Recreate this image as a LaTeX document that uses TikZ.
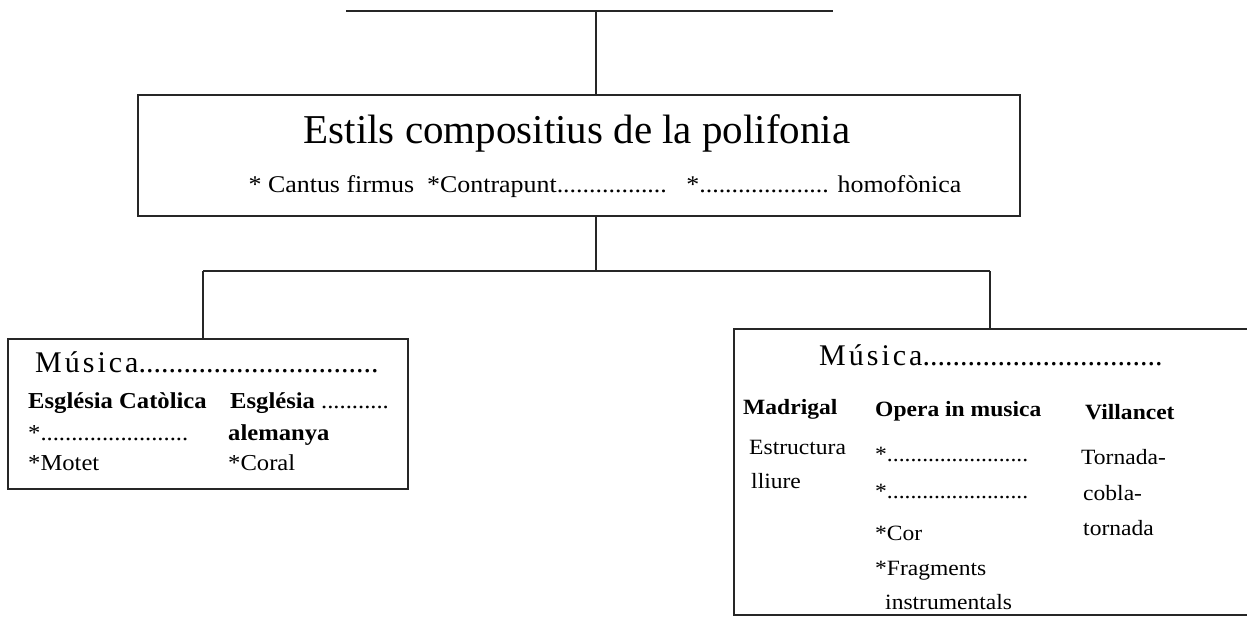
\documentclass[tikz,border=0pt]{standalone}
\usepackage{fontspec}
\setmainfont{Liberation Serif}
\newfontfamily\rf[FakeStretch=1.08]{Liberation Serif}
\newfontfamily\mf[LetterSpace=10]{Liberation Serif}
\begin{document}
\begin{tikzpicture}[x=1pt,y=-1pt,
  box/.style={draw=black!85,line width=1.8pt,inner sep=0pt,anchor=north west},
  conn/.style={draw=black!85,line width=1.8pt},
  txt/.style={anchor=base west,inner sep=0pt},
  body/.style={font=\rf\fontsize{21.8}{24}\selectfont},
  bbody/.style={font=\rf\bfseries\fontsize{21.8}{24}\selectfont},
  lbody/.style={font=\rf\fontsize{22.8}{25}\selectfont},
  lbbody/.style={font=\rf\bfseries\fontsize{22.8}{25}\selectfont},
  mus/.style={font=\fontsize{30}{33}\selectfont}]
\useasboundingbox (0,0) rectangle (1247,616);
% top line
\coordinate (tl) at (346,11);
\coordinate (tr) at (833,11);
\coordinate (topj) at (596,11);
\draw[conn] (tl) -- (tr);
% boxes
\node[box,minimum width=882,minimum height=121] (main) at (137,94) {};
\node[box,minimum width=400,minimum height=150] (left) at (7,338) {};
\node[box,minimum width=520,minimum height=286] (right) at (733,328) {};
% connectors
\coordinate (mid) at (596,271);
\coordinate (hl) at (203,271);
\coordinate (hr) at (990,271);
\draw[conn] (topj) -- (topj |- main.north);
\draw[conn] (topj |- main.south) -- (mid);
\draw[conn] (hl) -- (hr);
\draw[conn] (hl) -- (hl |- left.north);
\draw[conn] (hr) -- (hr |- right.north);
% main box text
\node[anchor=base,inner sep=0pt,font=\fontsize{41}{45}\selectfont] (title) at (577,143) {Estils compositius de la polifonia};
\node[anchor=base,inner sep=0pt,font=\rf\fontsize{24}{27}\selectfont] (sub) at (605,192) {* Cantus firmus\ \ *Contrapunt.................\ \ \ *.................... homofònica};
% left box
\node[txt,mus] (lm) at (35,372) {{\mf Música}................................};
\node[txt,lbbody] (l1) at (28,408) {Església Catòlica};
\node[txt,lbbody] (l2) at (230,408) {Església {\mdseries ...........}};
\node[txt,lbody] (l3) at (28,440) {*........................};
\node[txt,lbbody] (l4) at (228,440) {alemanya};
\node[txt,lbody] (l5) at (28,470) {*Motet};
\node[txt,lbody] (l6) at (228,470) {*Coral};
% right box
\node[txt,mus] (rm) at (819,365) {{\mf Música}................................};
\node[txt,bbody] (r1) at (743,414) {Madrigal};
\node[txt,bbody] (r2) at (875,416) {Opera in musica};
\node[txt,bbody] (r3) at (1085,419) {Villancet};
\node[txt,body] (r4) at (749,454) {Estructura};
\node[txt,body] (r5) at (751,488) {lliure};
\node[txt,body] (r6) at (875,461) {*........................};
\node[txt,body] (r7) at (875,498) {*........................};
\node[txt,body] (r8) at (875,540) {*Cor};
\node[txt,body] (r9) at (875,575) {*Fragments};
\node[txt,body] (r10) at (885,609) {instrumentals};
\node[txt,body] (r11) at (1081,464) {Tornada-};
\node[txt,body] (r12) at (1083,500) {cobla-};
\node[txt,body] (r13) at (1083,535) {tornada};
\end{tikzpicture}
\end{document}
